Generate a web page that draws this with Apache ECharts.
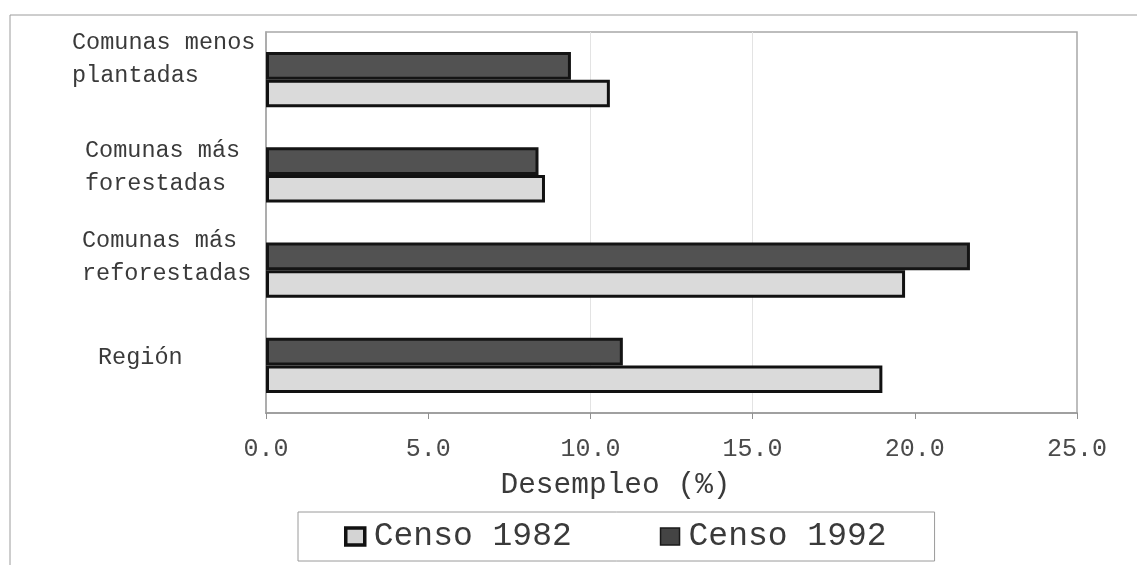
<!DOCTYPE html>
<html>
<head>
<meta charset="utf-8">
<title>Desempleo por grupo de comunas</title>
<script src="https://cdn.jsdelivr.net/npm/echarts@6/dist/echarts.min.js"></script>
<style>
  html, body { margin: 0; padding: 0; background: #ffffff; }
  #chart { width: 1137px; height: 565px; }
</style>
</head>
<body>
<div id="chart"></div>
<script>
// Categories listed from the bottom of the axis upward
const categories = [
  'Región',
  'Comunas más\nreforestadas',
  'Comunas más\nforestadas',
  'Comunas menos\nplantadas'
];
const censo1982 = [19.0, 19.7, 8.6, 10.6];
const censo1992 = [11.0, 21.7, 8.4, 9.4];
const seriesNames = ['Censo 1982', 'Censo 1992'];
const xTicks = { min: 0, max: 25, interval: 5 };

const FONT = '"Liberation Mono", "DejaVu Sans Mono", monospace';
const TEXT = '#3a3a3a';

// per-category label indent and upward shift of the label block
const labelIndent = [26, 10, 13, 0];
const labelLift = [8, 13, 8, 20];

const rich = {};
categories.forEach((c, i) => {
  rich['t' + i] = {
    fontFamily: FONT, fontSize: 23.5, color: TEXT,
    lineHeight: 33, padding: [0, 0, 0, labelIndent[i]]
  };
  rich['g' + i] = { fontSize: 2, lineHeight: labelLift[i] * 2 };
});

const chart = echarts.init(document.getElementById('chart'), null, { renderer: 'canvas' });

// the 1992 bar sits above the 1982 bar in each category, so it is listed first
const bars1982 = {
  name: seriesNames[0],
  type: 'bar',
  data: censo1982,
  barCategoryGap: '42%',
  barGap: '0%',
  itemStyle: { color: '#dadada', borderColor: '#111111', borderWidth: 3 }
};
const bars1992 = {
  name: seriesNames[1],
  type: 'bar',
  data: censo1992,
  barCategoryGap: '42%',
  barGap: '0%',
  itemStyle: { color: '#525252', borderColor: '#141414', borderWidth: 3 }
};

chart.setOption({
  backgroundColor: '#ffffff',
  animation: false,
  graphic: [{
    type: 'rect',
    shape: { x: 10, y: 15, width: 1300, height: 700 },
    style: { fill: 'none', stroke: '#9c9c9c', lineWidth: 1 },
    silent: true
  }],
  grid: {
    left: 266, right: 60, top: 32, bottom: 152,
    show: true, borderColor: '#a8a8a8', borderWidth: 1.5,
    backgroundColor: 'transparent'
  },
  legend: {
    data: [
      { name: seriesNames[0], itemStyle: { color: '#d4d4d4', borderColor: '#111111', borderWidth: 3.5 } },
      { name: seriesNames[1], itemStyle: { color: '#444444', borderColor: '#1a1a1a', borderWidth: 1.5 } }
    ],
    left: 298, top: 512,
    orient: 'horizontal',
    padding: [8, 48, 8, 46],
    itemGap: 88,
    itemWidth: 19, itemHeight: 17,
    borderColor: '#9a9a9a', borderWidth: 1,
    textStyle: { fontFamily: FONT, fontSize: 33, color: TEXT, padding: [0, 0, 0, 4] },
    icon: 'rect'
  },
  xAxis: {
    type: 'value',
    min: xTicks.min, max: xTicks.max, interval: xTicks.interval,
    name: 'Desempleo (%)',
    nameLocation: 'middle',
    nameGap: 57,
    nameTextStyle: {
      fontFamily: FONT, fontSize: 29.5, color: TEXT,
      padding: [0, 112, 0, 0]
    },
    axisLine: { show: true, lineStyle: { color: '#a0a0a0', width: 2 } },
    axisTick: { show: true, length: 6, lineStyle: { color: '#909090', width: 1 } },
    axisLabel: {
      fontFamily: FONT, fontSize: 25, color: '#4a4a4a', margin: 24,
      formatter: v => v.toFixed(1)
    },
    splitLine: {
      show: true,
      lineStyle: {
        color: ['transparent', 'transparent', '#e3e3e3', '#e3e3e3', 'transparent', 'transparent'],
        width: 1
      }
    }
  },
  yAxis: {
    type: 'category',
    data: categories,
    axisLine: { show: true, lineStyle: { color: '#a8a8a8', width: 1.5 } },
    axisTick: { show: false },
    axisLabel: {
      align: 'left',
      margin: 194,
      formatter: (value, idx) =>
        value.split('\n').map(l => '{t' + idx + '|' + l + '}').join('\n') +
        '\n{g' + idx + '| }',
      rich: rich
    }
  },
  series: [bars1992, bars1982]
});
</script>
</body>
</html>
